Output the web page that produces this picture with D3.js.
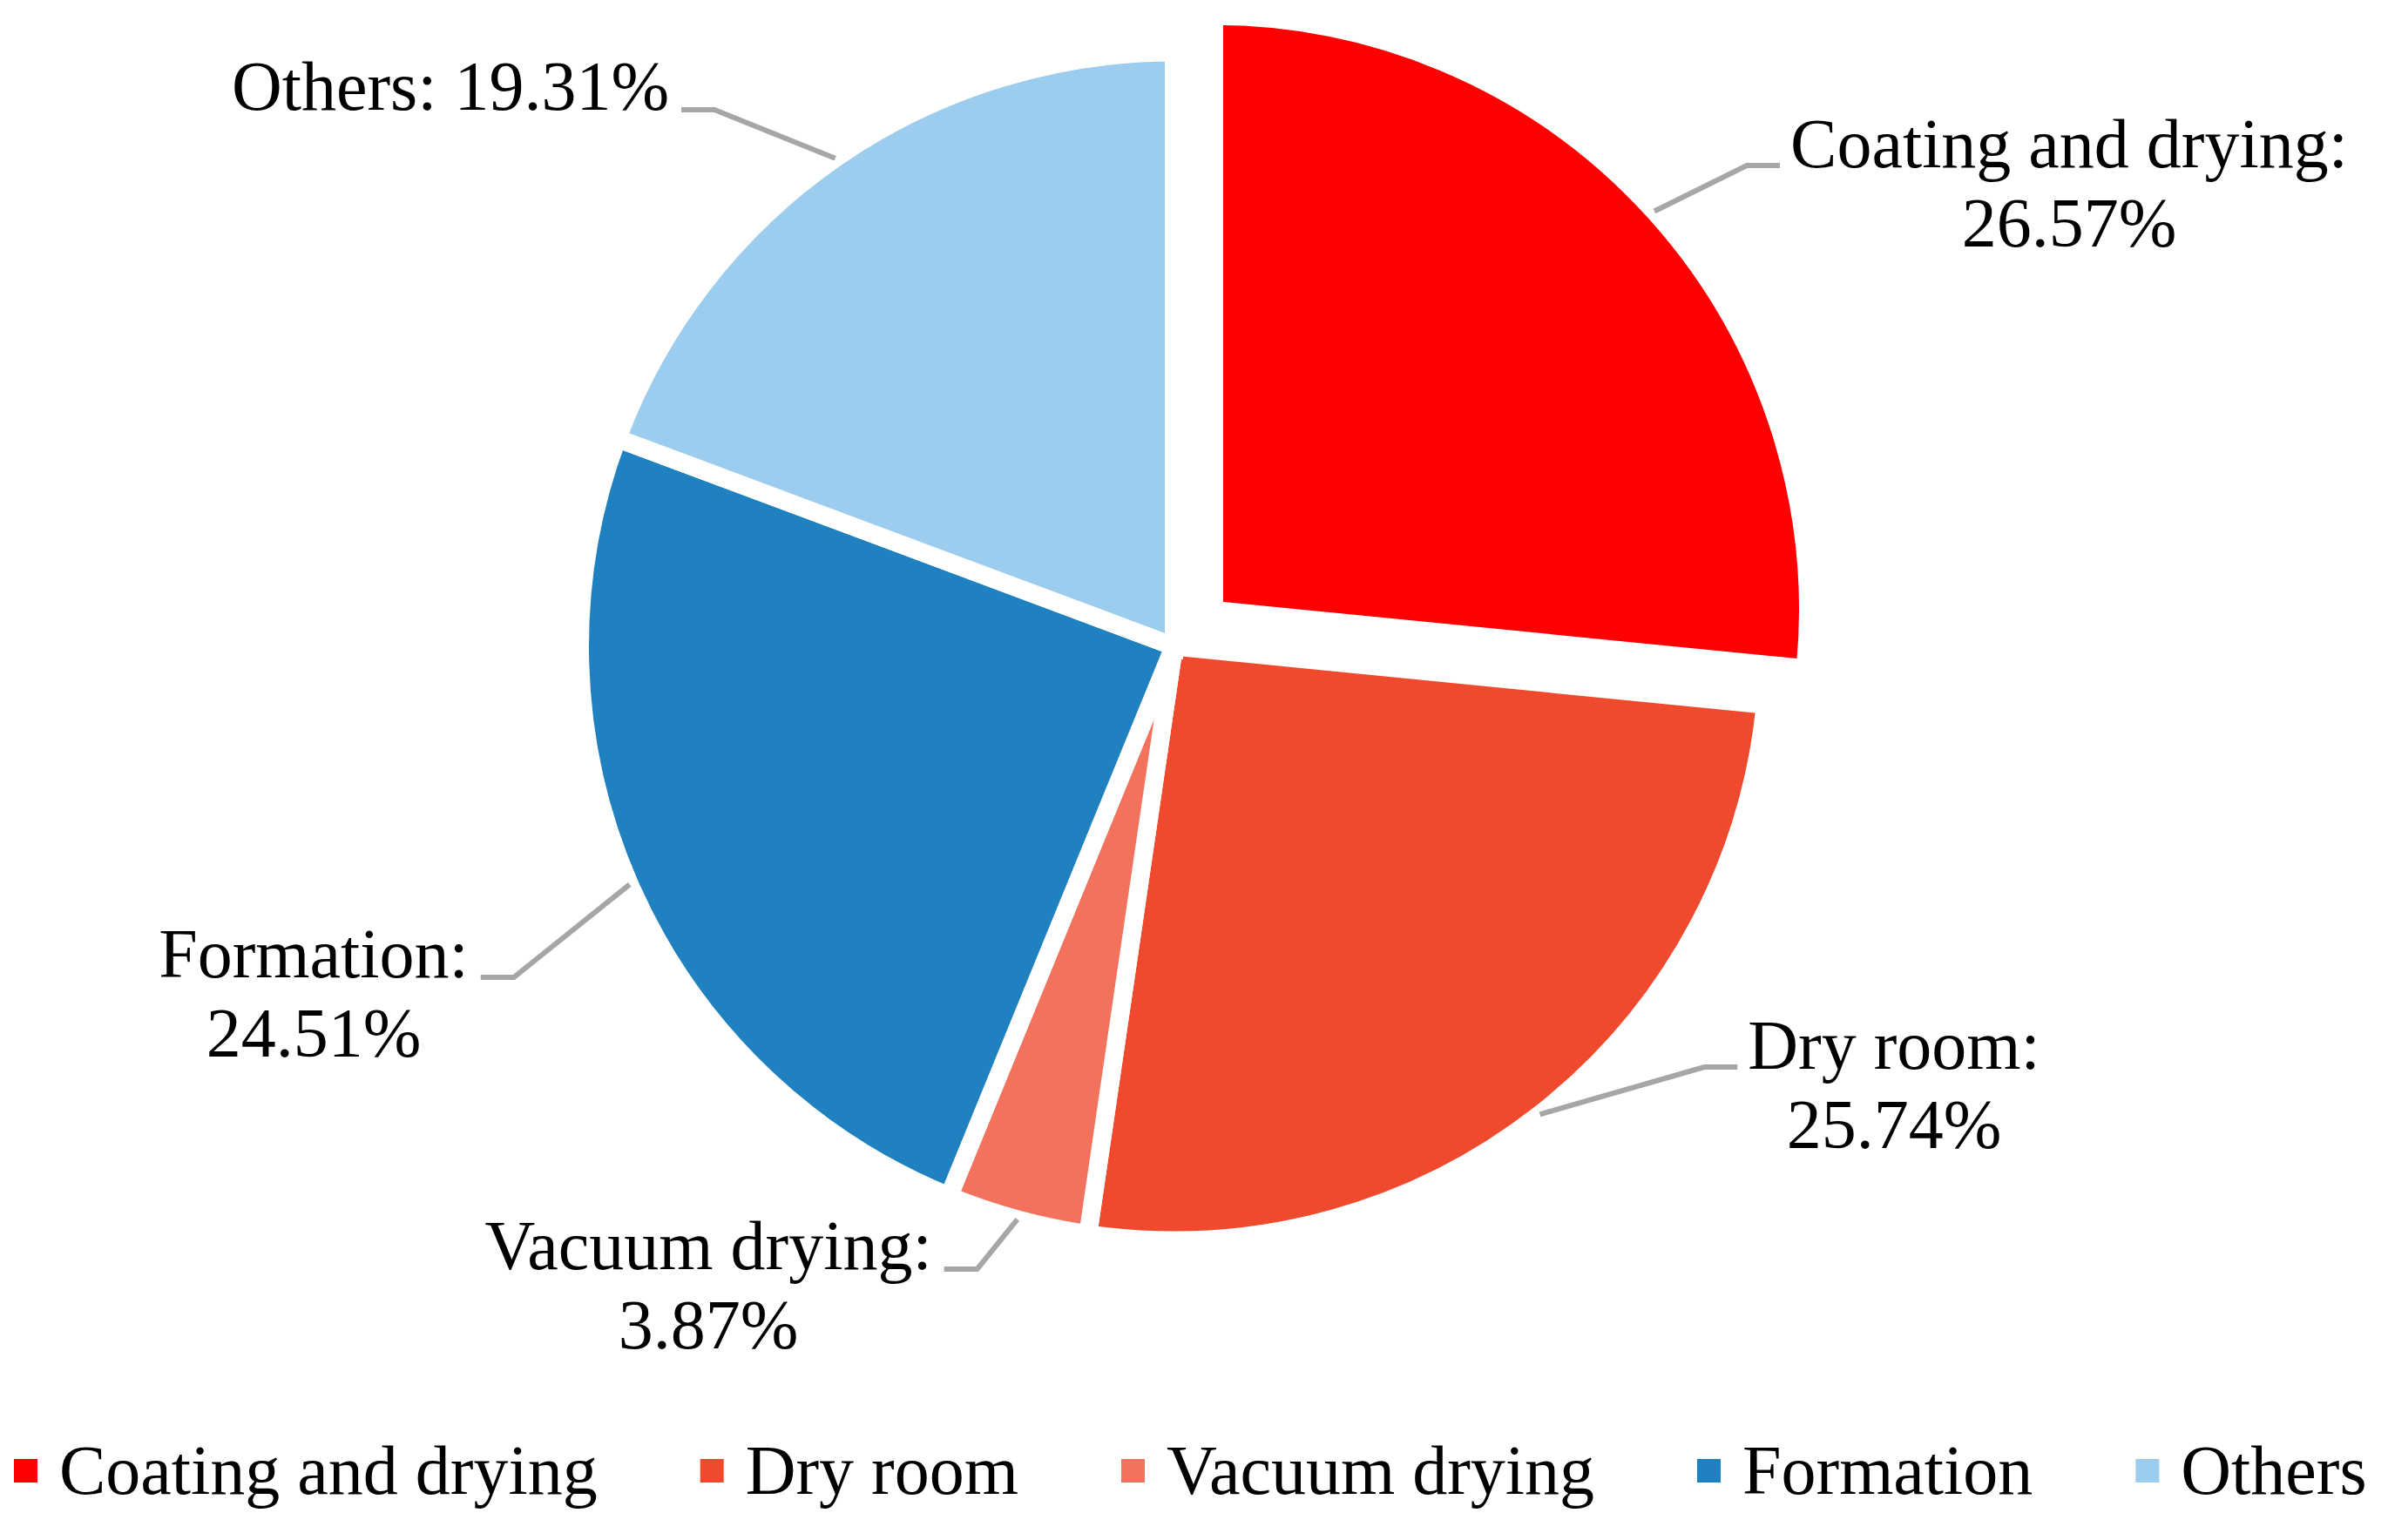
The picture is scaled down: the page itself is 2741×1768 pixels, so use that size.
<!DOCTYPE html>
<html>
<head>
<meta charset="utf-8">
<script src="https://cdn.jsdelivr.net/npm/d3@7"></script>
<style>
body { margin: 0; background: #fff; }
svg { display: block; }
text { font-family: "Liberation Serif", "Times New Roman", serif; fill: #000; }
</style>
</head>
<body>
<svg id="chart"></svg>
<script>
// values
var categories = ["Coating and drying", "Dry room", "Vacuum drying", "Formation", "Others"]
var shares = [26.57, 25.74, 3.87, 24.51, 19.31]
var colors = ["#FF0000", "#EF4A2E", "#F2725E", "#1F81BF", "#9DCDEE"]
var exploded = [true, false, false, false, false]

// label placement, set by hand like the original (centre x, first baseline)
var labelPos = [[2375, 192], [2174, 1227], [813, 1457], [360, 1122], [517, 126]]
var labelSide = ["right", "right", "left", "left", "left"]
var labelOneLine = [false, false, false, false, true]

var width = 2741
var height = 1768
var cx = 1347.5, cy = 742
var R = 682
var explode = 62
var fontSize = 80

var svg = d3.select("#chart")
	.attr("width", width)
	.attr("height", height)

var fmt = d3.format(".2f")

var pie = d3.pie().sort(null).value(d => d)
var arcs = pie(shares)

var arc = d3.arc().innerRadius(0).outerRadius(R)

//offset of a slice if it's pulled out
function offset(i) {
	if (!exploded[i]) return [0, 0]
	var a = (arcs[i].startAngle + arcs[i].endAngle) / 2
	return [explode * Math.sin(a), -explode * Math.cos(a)]
}

var g = svg.append("g").attr("transform", "translate(" + cx + "," + cy + ")")

g.selectAll("path")
	.data(arcs)
	.enter()
	.append("path")
	.attr("d", arc)
	.attr("transform", (d, i) => "translate(" + offset(i) + ")")
	.attr("fill", (d, i) => colors[i])
	.attr("stroke", "#fff")
	.attr("stroke-width", 21)
	.attr("stroke-linejoin", "miter")

//data labels
var labels = svg.append("g")
	.selectAll("text")
	.data(arcs)
	.enter()
	.append("text")
	.attr("text-anchor", "middle")
	.style("font-size", fontSize + "px")

labels.each(function(d, i) {
	var t = d3.select(this)
	var name = categories[i] + ":"
	var val = fmt(shares[i]) + "%"
	if (labelOneLine[i]) {
		t.append("tspan").attr("x", labelPos[i][0]).attr("y", labelPos[i][1]).text(name + " " + val)
	} else {
		t.append("tspan").attr("x", labelPos[i][0]).attr("y", labelPos[i][1]).text(name)
		t.append("tspan").attr("x", labelPos[i][0]).attr("y", labelPos[i][1] + 91).text(val)
	}
})

//leader lines: slice edge -> elbow -> next to the label
var leaders = svg.append("g")
labels.each(function(d, i) {
	var first = this.firstChild
	var w = first.getComputedTextLength()
	var a = (d.startAngle + d.endAngle) / 2
	var o = offset(i)
	var x0 = cx + o[0] + R * Math.sin(a)
	var y0 = cy + o[1] - R * Math.cos(a)
	var x2, y2, x1
	if (labelSide[i] == "right") {
		x2 = labelPos[i][0] - w / 2 - 12
		y2 = labelPos[i][1] - 2
		x1 = x2 - 38
	} else {
		x2 = labelPos[i][0] + w / 2 + 14
		y2 = labelPos[i][1]
		x1 = x2 + 38
	}
	leaders.append("polyline")
		.attr("points", [[x0, y0], [x1, y2], [x2, y2]].join(" "))
		.attr("fill", "none")
		.attr("stroke", "#A6A6A6")
		.attr("stroke-width", 6)
})

//legend along the bottom
var legend = svg.append("g")
var lx = 16
var ly = 1715
categories.forEach(function(c, i) {
	legend.append("rect")
		.attr("x", lx)
		.attr("y", ly - 40)
		.attr("width", 27)
		.attr("height", 27)
		.attr("fill", colors[i])
	var t = legend.append("text")
		.attr("x", lx + 52)
		.attr("y", ly)
		.style("font-size", fontSize + "px")
		.text(c)
	lx = lx + 52 + t.node().getComputedTextLength() + 118
})
</script>
</body>
</html>
